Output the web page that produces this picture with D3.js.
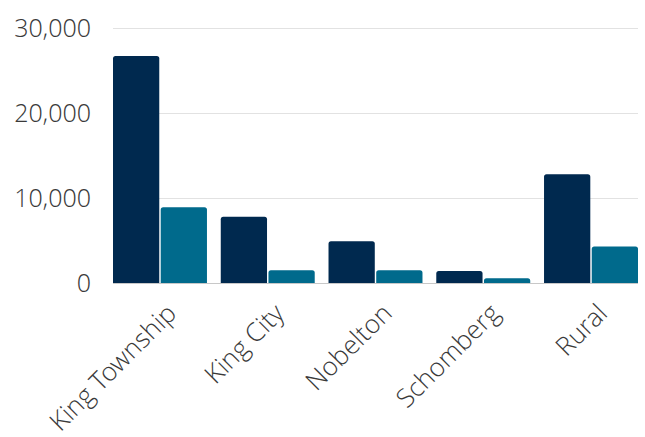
<!DOCTYPE html>
<html>
<head>
<meta charset="utf-8">
<script src="https://cdn.jsdelivr.net/npm/d3@7"></script>
<style>
  body { margin: 0; background: #fff; }
  svg text { font-family: "Open Sans Light", "Open Sans", sans-serif; font-weight: 300; fill: #3a3a3a; }
</style>
</head>
<body>
<svg id="chart" width="645" height="437"></svg>
<script>
const categories = ['King Township', 'King City', 'Nobelton', 'Schomberg', 'Rural'];
const series_names = ['a', 'b'];
const series_a = [26700, 7800, 4900, 1400, 12800];
const series_b = [8900, 1500, 1500, 550, 4300];
const y_ticks = [0, 10000, 20000, 30000];
const colors = ['#00294f', '#006a8c'];

const width = 645, height = 437;
const margin = { top: 28, right: 7, bottom: 154, left: 113 };
const svg = d3.select('#chart');

const x = d3.scaleBand()
  .domain(categories)
  .range([margin.left, width - margin.right])
  .paddingInner(0.128)
  .paddingOuter(0);

const x_inner = d3.scaleBand()
  .domain(series_names)
  .range([0, x.bandwidth()])
  .paddingInner(0.03);

const y = d3.scaleLinear()
  .domain([0, 30000])
  .range([height - margin.bottom, margin.top]);

// gridlines + y labels
const y_axis = svg.append('g')
  .attr('transform', `translate(${margin.left},0)`)
  .call(d3.axisLeft(y)
    .tickValues(y_ticks)
    .tickSize(-(width - margin.left - margin.right))
    .tickPadding(22)
    .tickFormat(d3.format(',')));
y_axis.select('.domain').remove();
y_axis.selectAll('.tick line')
  .attr('stroke', (d) => d === 0 ? '#c8c8c8' : '#e2e2e2')
  .attr('stroke-width', 1.2);
y_axis.selectAll('.tick text')
  .attr('font-size', 25)
  .attr('fill', '#3a3a3a');

// top-rounded bar path
function bar_path(x0, y0, w, h, r) {
  r = Math.min(r, h, w / 2);
  return `M ${x0} ${y0 + h} L ${x0} ${y0 + r} Q ${x0} ${y0} ${x0 + r} ${y0}` +
    ` L ${x0 + w - r} ${y0} Q ${x0 + w} ${y0} ${x0 + w} ${y0 + r} L ${x0 + w} ${y0 + h} Z`;
}

const rows = categories.map((c, i) => ({ cat: c, values: [series_a[i], series_b[i]] }));

const groups = svg.append('g').selectAll('g')
  .data(rows)
  .enter()
  .append('g')
  .attr('transform', (d) => `translate(${x(d.cat)},0)`);

groups.selectAll('path')
  .data((d) => d.values.map((v, i) => ({ key: series_names[i], value: v, i: i })))
  .enter()
  .append('path')
  .attr('d', (d) => bar_path(x_inner(d.key), y(d.value), x_inner.bandwidth(), y(0) - y(d.value), 2.5))
  .attr('fill', (d) => colors[d.i]);

// x labels
const x_axis = svg.append('g')
  .attr('transform', `translate(0,${height - margin.bottom})`)
  .call(d3.axisBottom(x).tickSize(0).tickPadding(0));
x_axis.select('.domain').remove();
x_axis.selectAll('.tick text')
  .attr('font-size', 26)
  .attr('text-anchor', 'end')
  .attr('dy', 0)
  .attr('transform', 'translate(18,32) rotate(-45)');
</script>
</body>
</html>
